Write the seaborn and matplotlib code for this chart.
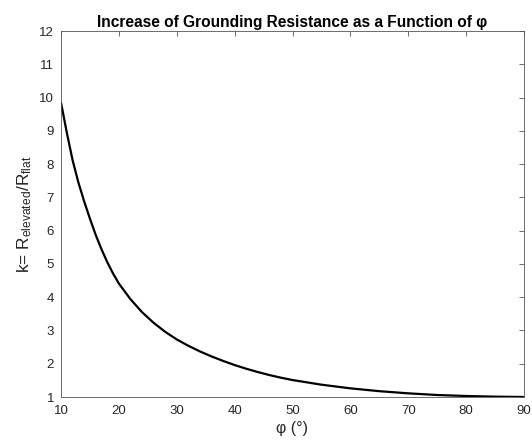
import numpy as np
import pandas as pd
import matplotlib
matplotlib.use("Agg")
import matplotlib.pyplot as plt
import seaborn as sns

# values
phi_deg = [10, 11, 12, 13, 14, 15, 16, 17, 18, 19, 20,
           22, 24, 26, 28, 30, 32, 34, 36, 38, 40,
           42, 44, 46, 48, 50, 55, 60, 65, 70, 75, 80, 85, 90]
k_ratio = [9.85, 8.95, 8.12, 7.45, 6.88, 6.36, 5.87, 5.44, 5.05, 4.71, 4.41,
           3.94, 3.55, 3.23, 2.96, 2.73, 2.54, 2.37, 2.22, 2.085, 1.96,
           1.85, 1.75, 1.66, 1.58, 1.51, 1.37, 1.26, 1.175, 1.11, 1.06, 1.03, 1.01, 1.0]

x_ticks = [10, 20, 30, 40, 50, 60, 70, 80, 90]
y_ticks = list(range(1, 13))

df = pd.DataFrame({"phi": phi_deg, "k": k_ratio})

sns.set_style("white")
plt.rcParams["font.family"] = ["Liberation Sans", "DejaVu Sans"]
plt.rcParams["mathtext.fontset"] = "custom"
plt.rcParams["mathtext.rm"] = "Liberation Sans"
plt.rcParams["mathtext.it"] = "Liberation Sans:italic"

txt = "#262626"
fig = plt.figure(figsize=(5.32, 4.41), dpi=100)
ax = fig.add_axes([61 / 532, 44 / 441, 463 / 532, 366 / 441])

sns.lineplot(data=df, x="phi", y="k", color="black", linewidth=1.6, ax=ax)

ax.set_xlim(10, 90)
ax.set_ylim(1, 12)
ax.set_xticks(x_ticks)
ax.set_yticks(y_ticks)
ax.tick_params(direction="in", length=3.5, width=0.6, color="#555555",
               labelcolor=txt, labelsize=9.5, top=True, right=True)
ax.tick_params(axis="x", pad=6)
ax.tick_params(axis="y", pad=5)
for s in ax.spines.values():
    s.set_color("#555555")
    s.set_linewidth(0.6)

ax.set_xlabel("φ (°)", fontsize=11.5, color=txt, labelpad=3)
ax.set_ylabel(r"k= R$_{\mathrm{elevated}}$/R$_{\mathrm{flat}}$", fontsize=12.4,
              color=txt, labelpad=4)
ax.set_title("Increase of Grounding Resistance as a Function of φ",
             fontsize=11.2, fontweight="bold", color="black", pad=3)

fig.savefig("out.png", dpi=100)
